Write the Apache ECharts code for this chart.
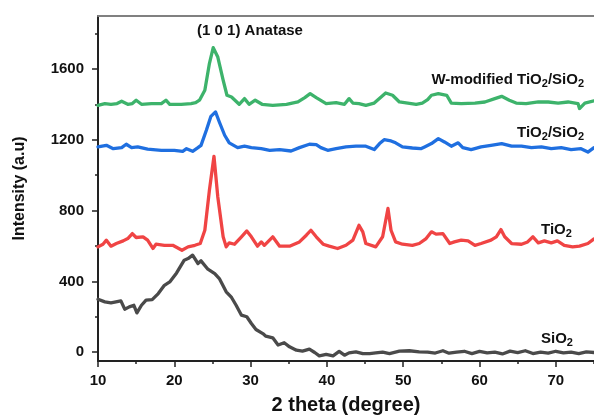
<!DOCTYPE html>
<html><head><meta charset="utf-8">
<script src="https://cdn.jsdelivr.net/npm/echarts@6/dist/echarts.min.js"></script>
<style>html,body{margin:0;padding:0;background:#fff}#c{width:594px;height:417px}</style>
</head><body><div id="c"></div>
<script>
// Tick values
const xMajorTicks = [10, 20, 30, 40, 50, 60, 70];
const xMinorTicks = [15, 25, 35, 45, 55, 65, 75];
const yMajorTicks = [0, 400, 800, 1200, 1600];
const yMinorTicks = [200, 600, 1000, 1400, 1800];

// SiO2
const sio2X = [10, 10.9, 11.7, 13, 13.5, 14.1, 14.7, 15.1, 15.7, 16.3, 17.1, 17.9, 18.7, 19.4, 20.3, 21.3, 21.8, 22.4, 23.1, 23.5, 24.4, 25.3, 25.9, 26.8, 27.5, 28.1, 28.8, 29.5, 30.1, 30.7, 31.6, 32, 32.9, 33.6, 34.4, 35.1, 36, 36.8, 37.7, 38.4, 39, 39.9, 40.8, 41.6, 42.3, 42.9, 43.8, 44.7, 45.6, 46.4, 47.3, 48.2, 49.5, 50.8, 52.1, 53.2, 54.2, 55.2, 56, 57, 58, 59, 60, 61, 62, 63, 64, 65, 66, 67, 68, 69, 70, 71, 72, 73, 74, 75];
const sio2Y = [299, 284, 279, 290, 243, 256, 265, 222, 265, 294, 297, 331, 378, 397, 448, 520, 529, 548, 501, 516, 469, 444, 416, 341, 309, 265, 209, 200, 162, 128, 105, 90, 81, 40, 53, 30, 11, 6, 17, -2, -21, -13, -21, 4, -17, -4, 2, -8, -8, -4, 0, -8, 6, 8, 2, 0, -5, 8, -6, 0, 5, -8, 4, -4, 0, -10, 6, -3, 8, -8, 0, -6, 5, -4, 0, -8, 2, -2];

// TiO2
const tio2X = [10, 10.65, 11.1, 11.7, 12.4, 13.3, 13.9, 14.5, 15, 15.9, 16.5, 17.2, 17.6, 18.7, 19.8, 21, 21.8, 22.7, 23.4, 24, 24.6, 25.2, 25.7, 26.4, 26.8, 27.2, 27.9, 28.8, 29.5, 30.1, 30.9, 31.4, 31.8, 32.9, 33.8, 35.1, 36.4, 37.3, 37.9, 38.6, 39.5, 40.3, 41.4, 42.5, 43.4, 44.2, 44.7, 45.1, 46.4, 47.3, 48, 48.4, 49, 49.9, 51.2, 52.1, 53, 53.7, 54.3, 55.2, 56.1, 56.7, 57.6, 58.5, 59.4, 60.2, 61.5, 62.2, 62.8, 63.3, 64.2, 65.5, 66.3, 67, 67.7, 68.5, 69.4, 70.2, 71.1, 72.2, 73.1, 74.2, 75];
const tio2Y = [595, 610, 633, 599, 614, 629, 642, 670, 648, 652, 633, 586, 610, 604, 604, 576, 595, 604, 614, 689, 915, 1107, 877, 652, 595, 618, 610, 652, 685, 652, 599, 623, 604, 652, 599, 599, 623, 661, 689, 652, 610, 599, 586, 604, 633, 717, 680, 614, 595, 652, 812, 689, 623, 610, 604, 614, 642, 680, 667, 670, 614, 623, 633, 629, 604, 614, 633, 652, 693, 652, 614, 610, 623, 652, 618, 629, 618, 629, 604, 595, 599, 614, 640];

// TiO2/SiO2
const tsX = [10, 11.1, 12, 13.1, 13.7, 14.4, 15.2, 16.5, 18.3, 20, 21.1, 21.6, 22.4, 23.1, 23.5, 24.2, 24.8, 25.4, 25.9, 26.6, 27.2, 28.3, 29.2, 30.1, 31.4, 32.5, 33.8, 35.3, 36.4, 37.7, 38.6, 39.2, 40.1, 41.2, 42.5, 43.8, 45.1, 46.2, 46.9, 47.5, 48.4, 49, 49.9, 51.2, 52.3, 52.8, 53.7, 54.6, 55.4, 56.3, 57.2, 57.8, 58.9, 60.2, 61.5, 62.9, 64.2, 65.5, 66.8, 68.1, 69.4, 70.7, 72, 73.3, 74.2, 75];
const tsY = [1160, 1169, 1150, 1156, 1175, 1156, 1160, 1147, 1141, 1141, 1135, 1150, 1135, 1156, 1169, 1254, 1333, 1358, 1301, 1226, 1183, 1156, 1164, 1156, 1150, 1141, 1145, 1137, 1156, 1175, 1173, 1156, 1141, 1150, 1160, 1164, 1164, 1145, 1179, 1201, 1194, 1183, 1160, 1154, 1150, 1160, 1179, 1207, 1188, 1164, 1183, 1156, 1145, 1160, 1169, 1179, 1164, 1164, 1156, 1160, 1150, 1156, 1145, 1150, 1131, 1156];

// W-modified TiO2/SiO2
const wX = [10, 10.9, 11.7, 12.5, 13.1, 13.9, 14.5, 15, 15.7, 17, 18.3, 18.9, 19.4, 20.9, 22.2, 22.8, 23.3, 24, 24.6, 25.1, 25.7, 26.4, 26.9, 27.5, 28.5, 29.2, 29.8, 30.6, 31.5, 32.9, 34.7, 36.2, 37.1, 37.8, 38.6, 39.9, 41.2, 42.3, 42.9, 43.4, 44.2, 45.1, 46.2, 47.1, 47.7, 48.6, 49.5, 50.6, 51.7, 52.5, 53.2, 53.7, 54.6, 55.7, 56.3, 57.6, 59.4, 60.7, 62, 62.9, 63.9, 64.8, 66.1, 67.7, 69, 70.3, 71.6, 72.9, 73.1, 73.8, 75];
const wY = [1395, 1405, 1401, 1405, 1418, 1401, 1405, 1424, 1401, 1405, 1405, 1424, 1401, 1401, 1405, 1410, 1424, 1480, 1631, 1721, 1668, 1537, 1452, 1442, 1401, 1433, 1401, 1424, 1401, 1395, 1401, 1414, 1439, 1461, 1439, 1405, 1410, 1401, 1433, 1408, 1405, 1395, 1408, 1442, 1465, 1452, 1414, 1408, 1401, 1408, 1427, 1452, 1461, 1452, 1408, 1405, 1408, 1414, 1433, 1446, 1424, 1408, 1405, 1414, 1414, 1408, 1414, 1405, 1377, 1408, 1420];

const zip = (xs, ys) => xs.map((x, i) => [x, ys[i]]);
const FONT = 'Liberation Sans, Arial, sans-serif';
const AX = '#222';

const chart = echarts.init(document.getElementById('c'), null, {renderer: 'canvas'});
function line(name, xs, ys, color) {
  return {name, type: 'line', data: zip(xs, ys), showSymbol: false, symbol: 'none',
    lineStyle: {color, width: 3.3, cap: 'round', join: 'round'}, silent: true, animation: false};
}
const rich = {
  a: {fontSize: 15, fontWeight: 'bold', fontFamily: FONT, color: '#111', lineHeight: 18},
  s: {fontSize: 11, fontWeight: 'bold', fontFamily: FONT, color: '#111', lineHeight: 10, verticalAlign: 'bottom'}
};
function note(text, x, y, align) {
  return {type: 'text', x, y, silent: true,
    style: {text, rich, align, verticalAlign: 'middle', font: 'bold 15px ' + FONT, fill: '#111'}};
}
const plain = v => String(v);
chart.setOption({
  animation: false,
  grid: {left: 98, right: 0, top: 16, bottom: 56, containLabel: false, outerBoundsMode: 'none'},
  xAxis: [{
    type: 'value', min: 10, max: 75, position: 'bottom',
    name: '2 theta (degree)', nameLocation: 'middle', nameGap: 34,
    nameTextStyle: {fontSize: 20, fontWeight: 'bold', fontFamily: FONT, color: '#111'},
    axisLine: {show: true, onZero: false, lineStyle: {color: AX, width: 2}},
    axisTick: {show: true, customValues: xMajorTicks, length: 6, inside: false, lineStyle: {color: AX, width: 1.5}},
    axisLabel: {customValues: xMajorTicks, formatter: plain, margin: 12, fontSize: 15, fontWeight: 'bold', fontFamily: FONT, color: '#111'},
    splitLine: {show: false}
  }, {
    type: 'value', min: 10, max: 75, position: 'bottom',
    axisLine: {show: false, onZero: false},
    axisTick: {show: true, customValues: xMinorTicks, length: 3, lineStyle: {color: AX, width: 1.5}},
    axisLabel: {show: false}, splitLine: {show: false}
  }, {
    type: 'value', min: 10, max: 75, position: 'top',
    axisLine: {show: true, onZero: false, lineStyle: {color: '#808080', width: 2}},
    axisTick: {show: false}, axisLabel: {show: false}, splitLine: {show: false}
  }],
  yAxis: [{
    type: 'value', min: -50, max: 1900, position: 'left',
    name: 'Intensity (a.u)', nameLocation: 'middle', nameGap: 70, nameRotate: 90,
    nameTextStyle: {fontSize: 16, fontWeight: 'bold', fontFamily: FONT, color: '#111'},
    axisLine: {show: true, onZero: false, lineStyle: {color: AX, width: 2}},
    axisTick: {show: true, customValues: yMajorTicks, length: 6, lineStyle: {color: AX, width: 1.5}},
    axisLabel: {customValues: yMajorTicks, formatter: plain, margin: 14, fontSize: 15, fontWeight: 'bold', fontFamily: FONT, color: '#111'},
    splitLine: {show: false}
  }, {
    type: 'value', min: -50, max: 1900, position: 'left',
    axisLine: {show: false, onZero: false},
    axisTick: {show: true, customValues: yMinorTicks, length: 3, lineStyle: {color: AX, width: 1.5}},
    axisLabel: {show: false}, splitLine: {show: false}
  }],
  series: [
    line('SiO2', sio2X, sio2Y, '#4a4a4a'),
    line('TiO2', tio2X, tio2Y, '#f04444'),
    line('TiO2/SiO2', tsX, tsY, '#1f6fe0'),
    line('W-modified TiO2/SiO2', wX, wY, '#3db36b')
  ],
  graphic: [
    note('{a|(1 0 1) Anatase}', 250, 31, 'center'),
    note('{a|W-modified TiO}{s|2}{a|/SiO}{s|2}', 584, 80, 'right'),
    note('{a|TiO}{s|2}{a|/SiO}{s|2}', 584, 133, 'right'),
    note('{a|TiO}{s|2}', 541, 230, 'left'),
    note('{a|SiO}{s|2}', 541, 339, 'left')
  ]
});
</script>
</body></html>
